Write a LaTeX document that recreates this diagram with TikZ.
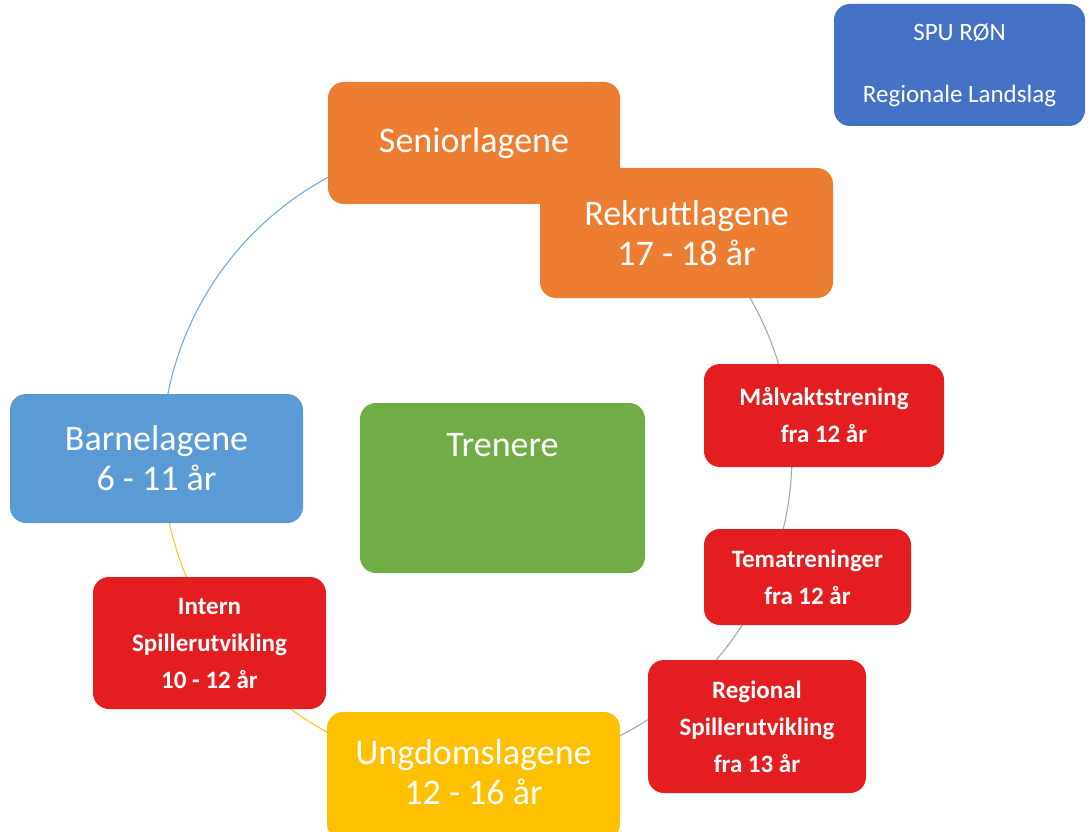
\documentclass[tikz,border=0pt]{standalone}
\usepackage{fontspec}
\setmainfont{Carlito}
\definecolor{cOrange}{HTML}{ED7D31}
\definecolor{cBlue}{HTML}{5B9BD5}
\definecolor{cDark}{HTML}{4472C4}
\definecolor{cGreen}{HTML}{70AD47}
\definecolor{cYellow}{HTML}{FFC000}
\definecolor{cRed}{HTML}{E41E20}
\definecolor{cGrey}{HTML}{A0A8B4}
\begin{document}
\begin{tikzpicture}[x=1pt,y=-1pt,
  box/.style={rounded corners=16pt, inner sep=0pt, align=center, text=white},
  bigfont/.style={font=\fontsize{36}{40}\selectfont},
  bigbox/.style={box, bigfont},
  redbox/.style={box, fill=cRed, font=\fontsize{25}{37}\selectfont\bfseries},
  ring/.style={line width=1.1pt}]
\useasboundingbox (0,0) rectangle (1088,832);
\coordinate (C) at (477,455);
% ring arcs (y axis points down, so angles are negated)
\draw[ring, cBlue!85] (C) ++(-90:315) arc[start angle=-90, end angle=-180, radius=315];
\draw[ring, cYellow!85] (C) ++(-180:315) arc[start angle=-180, end angle=-270, radius=315];
\draw[ring, cGrey] (C) ++(90:315) arc[start angle=90, end angle=-46.7, radius=315];
% nodes
\node[bigbox, fill=cOrange, minimum width=292pt, minimum height=122pt] (senior) at (474,143) {Seniorlagene};
\node[bigbox, fill=cOrange, minimum width=293pt, minimum height=130pt] (rekrutt) at (686.5,233) {Rekruttlagene\\17 - 18 år};
\node[bigbox, fill=cBlue, minimum width=293pt, minimum height=129pt] (barne) at (156.5,458.5) {Barnelagene\\6 - 11 år};
\node[box, fill=cGreen, minimum width=285pt, minimum height=170pt,
  label={[anchor=center, yshift=-42pt, text=white, bigfont]north:Trenere}] (trenere) at (502.5,488) {};
\node[bigbox, fill=cYellow, minimum width=293pt, minimum height=128pt] (ungdom) at (473.5,776) {};
\node[text=white, align=center, bigfont] (ungdomtxt) at (473.5,772) {Ungdomslagene\\12 - 16 år};
\node[redbox, minimum width=240pt, minimum height=103pt] (malvakt) at (824,415.5) {Målvaktstrening\\fra 12 år};
\node[redbox, minimum width=207pt, minimum height=96pt] (tema) at (807.5,577) {Tematreninger\\fra 12 år};
\node[redbox, minimum width=218pt, minimum height=133pt] (regional) at (757,726.5) {Regional\\Spillerutvikling\\fra 13 år};
\node[redbox, minimum width=233pt, minimum height=132pt] (intern) at (209.5,643) {Intern\\Spillerutvikling\\10 - 12 år};
\node[box, fill=cDark, minimum width=251pt, minimum height=122pt, font=\fontsize{25}{31}\selectfont] (spu) at (959.5,65) {SPU RØN\\[31pt]Regionale Landslag};
\end{tikzpicture}
\end{document}
